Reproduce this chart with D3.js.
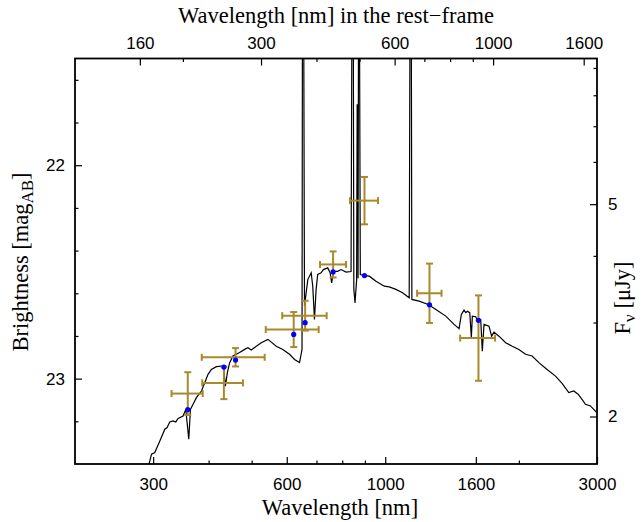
<!DOCTYPE html>
<html>
<head>
<meta charset="utf-8">
<script src="https://d3js.org/d3.v7.min.js"></script>
<style>
  body { margin: 0; background: #fff; }
  .tick text { font-family: "Liberation Sans", Arial, sans-serif; font-size: 17px; fill: #000; }
  .tick line { stroke: #000; stroke-width: 1.2; }
  .title { font-family: "Liberation Serif", "Times New Roman", serif; font-size: 22.5px; fill: #000; }
</style>
</head>
<body>
<div class="canvas"></div>
<script>
// model spectrum, observed wavelength [nm] and AB magnitude
const specWave = [292, 297.5, 302.6, 305.3, 310.6, 318.7, 322.5, 327, 332.8, 337.4, 341.4, 350.4, 355.3, 360.9, 364,
  369, 375.5, 385.4, 392, 398.8, 405.8, 416.5, 427.4, 432.5, 436.3, 440.9, 446.2, 453.8, 469.8, 482.2, 490.5, 499.1,
  512.3, 525.7, 544, 553.7, 568.1, 587.8, 608.7, 624.7, 641.1, 649.4, 651.1, 654.5, 657.8, 669.2, 681, 686.6, 692.7,
  698.7, 704.5, 717, 725.6, 742, 751.3, 757.4, 764.2, 781.3, 795.3, 816, 837.5, 842.3, 846.7, 849.7, 855, 862.1,
  864.5, 866.7, 868.5, 871, 874, 878.7, 898.6, 920.7, 953.1, 995, 1021, 1057, 1093.8, 1132.4, 1138.2, 1144, 1148.2,
  1192.4, 1253.8, 1300.4, 1369, 1429.3, 1466.7, 1484.3, 1505, 1518.6, 1531.2, 1550.4, 1563.3, 1571.2, 1599, 1612.3,
  1641, 1654.7, 1669.3, 1712.9, 1737, 1758, 1804, 1867.7, 1932.5, 2000.4, 2071.2, 2143, 2218.8, 2316, 2419.1, 2503,
  2591.4, 2659.2, 2719.3, 2776.2, 2825.3, 2899.7, 2975, 3000];
const specMag = [23.42, 23.354, 23.346, 23.327, 23.292, 23.237, 23.229, 23.203, 23.198, 23.203, 23.187, 23.175, 23.144, 23.284, 23.144,
  23.12, 23.089, 23.058, 23.019, 22.98, 22.957, 22.944, 22.941, 22.946, 23.035, 22.972, 22.925, 22.894, 22.878, 22.863, 22.855, 22.866,
  22.848, 22.832, 22.816, 22.829, 22.848, 22.863, 22.886, 22.91, 22.925, 22.863, 21.0, 21.0, 22.66, 22.536, 22.504, 22.567, 22.723,
  22.582, 22.512, 22.504, 22.489, 22.481, 22.504, 22.551, 22.497, 22.497, 22.489, 22.501, 22.498, 21.0, 21.0, 22.582, 22.645, 22.536,
  21.717, 21.717, 22.53, 21.0, 21.0, 22.512, 22.517, 22.52, 22.544, 22.567, 22.57, 22.582, 22.598, 22.621, 21.0, 21.0, 22.629,
  22.637, 22.654, 22.676, 22.707, 22.746, 22.766, 22.699, 22.679, 22.691, 22.684, 22.691, 22.808, 22.707, 22.71, 22.727,
  22.723, 22.871, 22.746, 22.754, 22.801, 22.782, 22.801, 22.832, 22.848, 22.863, 22.886, 22.894, 22.925, 22.957, 22.988, 23.022,
  23.065, 23.058, 23.073, 23.097, 23.12, 23.128, 23.152, 23.16];

// photometry: filter centre, filter edges, magnitude, error, model magnitude
const bandWave = [359, 433, 460, 622, 660, 763, 898, 1258, 1622];
const bandLow  = [330, 387, 386, 538, 586, 713, 833, 1180, 1475];
const bandHigh = [388, 478, 535, 708, 738, 816, 963, 1339, 1768];
const obsMag   = [23.07, 23.02, 22.90, 22.77, 22.705, 22.465, 22.166, 22.60, 22.81];
const obsErr   = [0.10, 0.076, 0.043, 0.082, 0.07, 0.061, 0.111, 0.139, 0.20];
const modelMag = [23.145, 22.946, 22.913, 22.793, 22.738, 22.50, 22.517, 22.654, 22.727];

const redshift = 0.75;
const zeroPoint = 23.93;   // AB mag of 1 uJy

const obsMajor = [300, 600, 1000, 1600, 3000];
const obsMinor = [400, 500, 700, 800, 900, 2000];
const restMajor = [160, 300, 600, 1000, 1600];
const restMinor = [200, 400, 500, 700, 800, 900];
const magMajor = [22, 23];
const magMinor = [21.6, 21.8, 22.2, 22.4, 22.6, 22.8, 23.2];
const fluxMajor = [5, 2];
const fluxMinor = [3, 4, 6, 7, 8, 9];

const W = 642, H = 522;
const box = { left: 75, right: 597, top: 58.5, bottom: 464 };
const gold = '#a8892c';

const svg = d3.select('.canvas').append('svg')
    .attr('width', W).attr('height', H);

const x = d3.scaleLog().domain([200, 3000]).range([box.left, box.right]);
const xRest = d3.scaleLog().domain([200 / (1 + redshift), 3000 / (1 + redshift)]).range([box.left, box.right]);
const y = d3.scaleLinear().domain([21.5, 23.4]).range([box.top, box.bottom]);
// flux axis: log in flux, placed through the magnitude scale
const fluxPos = f => y(zeroPoint - 2.5 * Math.log10(f));
const yF = d3.scaleLog().domain([5, 2]).range([fluxPos(5), fluxPos(2)]);

svg.append('clipPath').attr('id', 'plotClip')
  .append('rect')
    .attr('x', box.left).attr('y', box.top)
    .attr('width', box.right - box.left).attr('height', box.bottom - box.top);

// spectrum
const line = d3.line().x(d => x(d[0])).y(d => y(d[1]));
svg.append('path')
    .datum(specWave.map((w, i) => [w, specMag[i]]))
    .attr('clip-path', 'url(#plotClip)')
    .attr('d', line)
    .attr('fill', 'none')
    .attr('stroke', '#000')
    .attr('stroke-width', 1.2);

// error bars
const bars = svg.append('g').attr('stroke', gold).attr('stroke-width', 2).attr('fill', 'none');
const cap = 3.5;
bandWave.forEach((w, i) => {
    const cx = x(w), cy = y(obsMag[i]);
    const x0 = x(bandLow[i]), x1 = x(bandHigh[i]);
    const y0 = y(obsMag[i] - obsErr[i]), y1 = y(obsMag[i] + obsErr[i]);
    const g = bars.append('g');
    g.append('line').attr('x1', x0).attr('x2', x1).attr('y1', cy).attr('y2', cy);
    g.append('line').attr('x1', x0).attr('x2', x0).attr('y1', cy - cap).attr('y2', cy + cap);
    g.append('line').attr('x1', x1).attr('x2', x1).attr('y1', cy - cap).attr('y2', cy + cap);
    g.append('line').attr('x1', cx).attr('x2', cx).attr('y1', y0).attr('y2', y1);
    g.append('line').attr('x1', cx - cap).attr('x2', cx + cap).attr('y1', y0).attr('y2', y0);
    g.append('line').attr('x1', cx - cap).attr('x2', cx + cap).attr('y1', y1).attr('y2', y1);
});

// model magnitudes
svg.append('g').selectAll('circle')
    .data(bandWave)
    .enter().append('circle')
    .attr('cx', d => x(d))
    .attr('cy', (d, i) => y(modelMag[i]))
    .attr('r', 2.6)
    .attr('fill', '#0000ff');

// axes, ticks pointing inwards
const major = 7, minor = 3.5;
const drawAxis = (axis, tx, ty) => {
    const g = svg.append('g').attr('transform', `translate(${tx},${ty})`).call(axis);
    g.select('.domain').remove();
    return g;
};

drawAxis(d3.axisBottom(x).tickValues(obsMajor).tickFormat(d3.format('d')).tickSize(-major).tickPadding(14), 0, box.bottom);
drawAxis(d3.axisBottom(x).tickValues(obsMinor).tickFormat('').tickSize(-minor), 0, box.bottom);
drawAxis(d3.axisTop(xRest).tickValues(restMajor).tickFormat(d3.format('d')).tickSize(-major).tickPadding(10), 0, box.top);
drawAxis(d3.axisTop(xRest).tickValues(restMinor).tickFormat('').tickSize(-minor), 0, box.top);
drawAxis(d3.axisLeft(y).tickValues(magMajor).tickFormat(d3.format('d')).tickSize(-major).tickPadding(10), box.left, 0);
drawAxis(d3.axisLeft(y).tickValues(magMinor).tickFormat('').tickSize(-minor), box.left, 0);
drawAxis(d3.axisRight(yF).tickValues(fluxMajor).tickFormat(d3.format('d')).tickSize(-major).tickPadding(11), box.right, 0);
drawAxis(d3.axisRight(yF).tickValues(fluxMinor).tickFormat('').tickSize(-minor), box.right, 0);

// frame
svg.append('rect')
    .attr('x', box.left).attr('y', box.top)
    .attr('width', box.right - box.left).attr('height', box.bottom - box.top)
    .attr('fill', 'none').attr('stroke', '#000').attr('stroke-width', 1.8);

// titles
svg.append('text').attr('class', 'title')
    .attr('x', 336).attr('y', 23)
    .attr('text-anchor', 'middle')
    .text('Wavelength [nm] in the rest\u2212frame');

svg.append('text').attr('class', 'title')
    .attr('x', 340).attr('y', 515)
    .attr('text-anchor', 'middle')
    .text('Wavelength [nm]');

const yl = svg.append('text').attr('class', 'title')
    .attr('transform', 'translate(28,262) rotate(-90)')
    .attr('text-anchor', 'middle');
yl.append('tspan').text('Brightness [mag');
yl.append('tspan').attr('font-size', '17px').attr('dy', 5).text('AB');
yl.append('tspan').attr('dy', -5).text(']');

const fl = svg.append('text').attr('class', 'title')
    .attr('transform', 'translate(630,298) rotate(-90)')
    .attr('text-anchor', 'middle');
fl.append('tspan').text('F');
fl.append('tspan').attr('font-size', '17px').attr('dy', 5).text('\u03bd');
fl.append('tspan').attr('dy', -5).text(' [\u03bcJy]');
</script>
</body>
</html>
